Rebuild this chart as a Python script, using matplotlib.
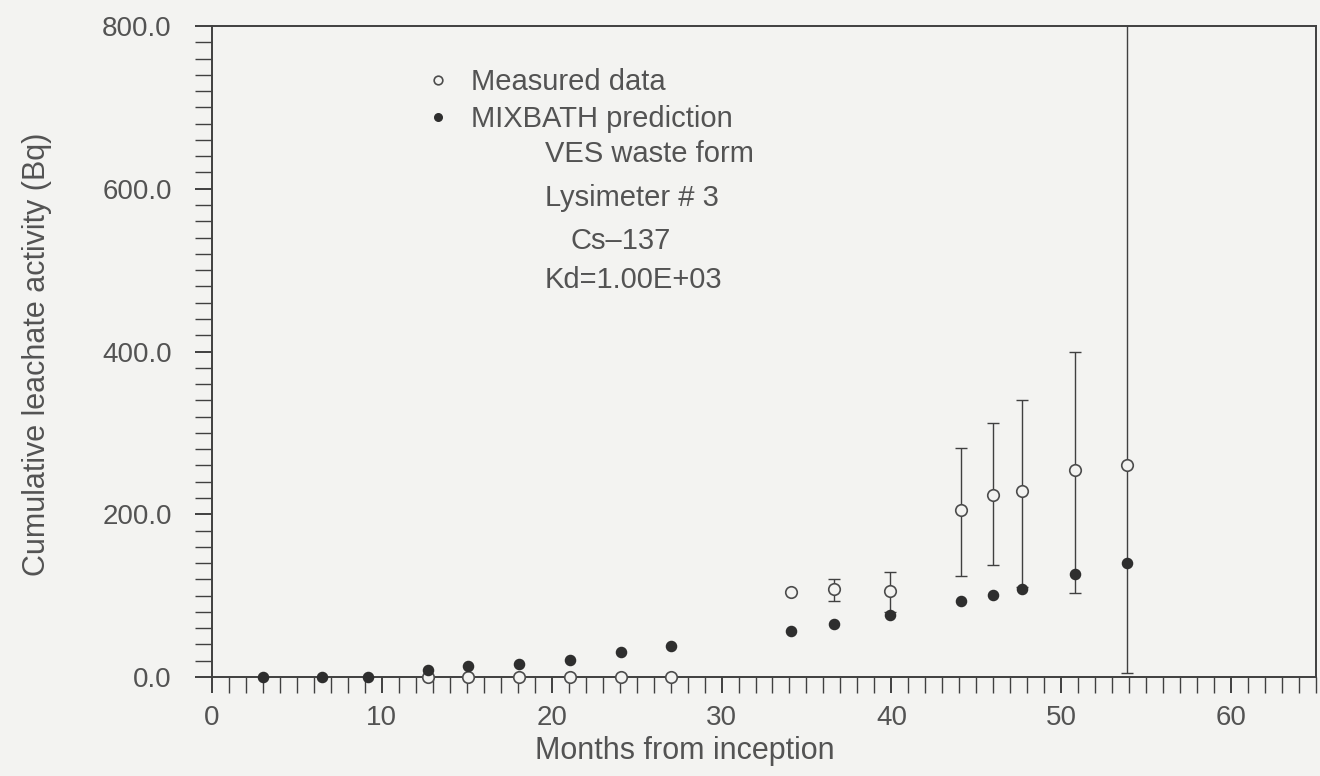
import matplotlib.pyplot as plt
from matplotlib.ticker import MultipleLocator, FormatStrFormatter

# Cs-137 leachate, lysimeter 3
months_pred = [3.0, 6.5, 9.2, 12.7, 15.05, 18.1, 21.1, 24.1, 27.0,
               34.1, 36.6, 39.9, 44.1, 46.0, 47.7, 50.8, 53.9]
pred = [0, 0, 0, 8, 13, 16, 21, 31, 38,
        57, 65, 76, 93, 101, 108, 126, 140]

months_meas = [12.7, 15.05, 18.1, 21.1, 24.1, 27.0,
               34.1, 36.6, 39.9, 44.1, 46.0, 47.7, 50.8, 53.9]
meas = [0, 0, 0, 0, 0, 0,
        105, 108, 106, 205, 224, 228, 254, 260]
meas_lo = [0, 0, 0, 0, 0, 0,
           105, 93, 80, 124, 138, 110, 103, 5]
meas_hi = [0, 0, 0, 0, 0, 0,
           105, 121, 129, 281, 312, 341, 400, 1000]

bg = '#f3f3f1'
ink = '#404040'
txt = '#535353'

plt.rcParams['font.family'] = ['Liberation Sans', 'DejaVu Sans']

fig = plt.figure(figsize=(13.2, 7.76), dpi=100, facecolor=bg)
W, H = 1320, 776
ax = fig.add_axes([212 / W, 1 - 677 / H, (1316 - 212) / W, (677 - 26) / H])
ax.set_facecolor(bg)

err_lo = [m - lo for m, lo in zip(meas, meas_lo)]
err_hi = [hi - m for m, hi in zip(meas, meas_hi)]
ax.errorbar(months_meas, meas, yerr=[err_lo, err_hi], fmt='none',
            ecolor=ink, elinewidth=1.0, capsize=4.5, capthick=1.0)

ax.plot(months_meas, meas, 'o', ms=8.3, mfc=bg, mec='#4c4c4c', mew=1.2,
        clip_on=False, zorder=3, label='Measured data')
ax.plot(months_pred, pred, 'o', ms=7.3, mfc='#2e2e2e', mec='#2e2e2e',
        clip_on=False, zorder=4, label='MIXBATH prediction')

ax.set_xlim(0, 65)
ax.set_ylim(0, 800)
ax.xaxis.set_major_locator(MultipleLocator(10))
ax.xaxis.set_minor_locator(MultipleLocator(1))
ax.yaxis.set_major_locator(MultipleLocator(200))
ax.yaxis.set_minor_locator(MultipleLocator(20))
ax.yaxis.set_major_formatter(FormatStrFormatter('%.1f'))

for s in ax.spines.values():
    s.set_color(ink)
    s.set_linewidth(1.4)

ax.tick_params(axis='both', which='both', direction='out', color=ink,
               labelcolor=txt, labelsize=20)
ax.tick_params(axis='x', which='major', length=11.5, width=1.4, pad=9)
ax.tick_params(axis='x', which='minor', length=11.5, width=1.0)
ax.tick_params(axis='y', which='major', length=12, width=1.4, pad=17)
ax.tick_params(axis='y', which='minor', length=12, width=1.0)

fig.text(685 / W, 1 - 751 / H, 'Months from inception', ha='center',
         va='center', fontsize=22, color=txt)
fig.text(37 / W, 1 - 354 / H, 'Cumulative leachate activity (Bq)',
         rotation=90, ha='center', va='center', fontsize=22, color=txt)

ax.legend(loc='upper left', bbox_to_anchor=(423 / W, 1 - 68 / H),
          bbox_transform=fig.transFigure, frameon=False, fontsize=21,
          labelcolor=txt, handlelength=1.0, handletextpad=0.65,
          labelspacing=0.3, borderpad=0, borderaxespad=0, markerscale=0.75)

notes = [('VES waste form', 545, 154), ('Lysimeter # 3', 545, 198),
         ('Cs\u2013137', 571, 241), ('Kd=1.00E+03', 545, 280)]
for s, x, y in notes:
    fig.text(x / W, 1 - y / H, s, ha='left', va='center', fontsize=21,
             color=txt)

fig.savefig('out.png', dpi=100, facecolor=bg)
